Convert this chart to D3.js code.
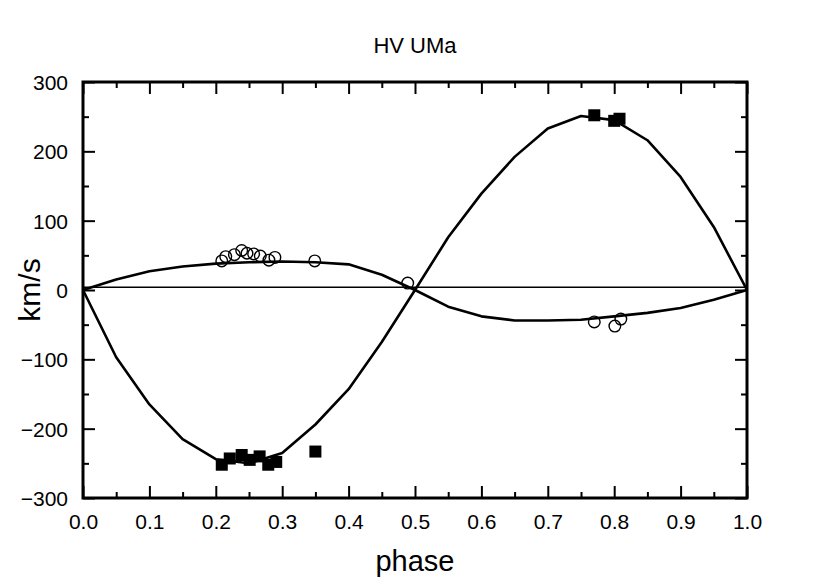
<!DOCTYPE html>
<html>
<head>
<meta charset="utf-8">
<script src="https://cdn.jsdelivr.net/npm/d3@7"></script>
<style>
  html, body { margin: 0; padding: 0; background: #fff; }
  svg { display: block; }
  text { font-family: "Liberation Sans", Arial, sans-serif; fill: #000; }
</style>
</head>
<body>
<svg id="chart" width="830" height="583"></svg>
<script>
// ---- data ----
const title = "HV UMa";
const xLabel = "phase";
const yLabel = "km/s";
const xTickValues = [0, 0.1, 0.2, 0.3, 0.4, 0.5, 0.6, 0.7, 0.8, 0.9, 1.0];
const yTickValues = [-300, -200, -100, 0, 100, 200, 300];
const fitPhase = [0, 0.05, 0.1, 0.15, 0.2, 0.25, 0.3, 0.35, 0.4, 0.45, 0.5,
                  0.55, 0.6, 0.65, 0.7, 0.75, 0.8, 0.85, 0.9, 0.95, 1.0];
const primaryFit = [0, -97, -165, -215, -244, -250, -235, -194, -143, -75, 0,
                    76, 139, 192, 233, 251, 245, 216, 163, 91, 0];
const secondaryFit = [0, 15, 27, 34, 38, 40, 41, 40, 37, 22, 0,
                      -24, -38, -44, -44, -43, -38, -33, -26, -14, 0];
const primaryPhase = [0.209, 0.221, 0.239, 0.251, 0.266, 0.279, 0.291, 0.350, 0.770, 0.800, 0.808];
const primaryRV = [-252, -243, -238, -245, -240, -252, -248, -233, 252, 244, 247];
const secondaryPhase = [0.209, 0.215, 0.228, 0.239, 0.247, 0.257, 0.267, 0.280, 0.289, 0.349, 0.489, 0.770, 0.801, 0.810];
const secondaryRV = [42, 48, 51, 57, 53, 52, 49, 43, 47, 42, 10, -46, -52, -42];
const gammaLine = 4;

// ---- layout ----
const svg = d3.select("#chart");
const L = 83, R = 747, T = 82, B = 498;
const x = d3.scaleLinear().domain([0, 1]).range([L, R]);
const y = d3.scaleLinear().domain([-300, 300]).range([B, T]);

const xMinor = d3.range(0, 1.0001, 0.05);
const yMinor = d3.range(-300, 300.01, 50);

function isMajorX(v) { return Math.abs(v * 10 - Math.round(v * 10)) < 1e-6; }
function isMajorY(v) { return v % 100 === 0; }

const gAxes = svg.append("g");
// bottom
gAxes.append("g").attr("transform", `translate(0,${B})`)
  .call(d3.axisTop(x).tickValues(xMinor).tickSize(0).tickFormat(""))
  .call(g => g.select(".domain").remove())
  .call(g => g.selectAll(".tick line").attr("y2", d => -(isMajorX(d) ? 12 : 6)).attr("stroke", "#000").attr("stroke-width", 2));
// top
gAxes.append("g").attr("transform", `translate(0,${T})`)
  .call(d3.axisBottom(x).tickValues(xMinor).tickSize(0).tickFormat(""))
  .call(g => g.select(".domain").remove())
  .call(g => g.selectAll(".tick line").attr("y2", d => (isMajorX(d) ? 12 : 6)).attr("stroke", "#000").attr("stroke-width", 2));
// left
gAxes.append("g").attr("transform", `translate(${L},0)`)
  .call(d3.axisRight(y).tickValues(yMinor).tickSize(0).tickFormat(""))
  .call(g => g.select(".domain").remove())
  .call(g => g.selectAll(".tick line").attr("x2", d => (isMajorY(d) ? 12 : 6)).attr("stroke", "#000").attr("stroke-width", 2));
// right
gAxes.append("g").attr("transform", `translate(${R},0)`)
  .call(d3.axisLeft(y).tickValues(yMinor).tickSize(0).tickFormat(""))
  .call(g => g.select(".domain").remove())
  .call(g => g.selectAll(".tick line").attr("x2", d => -(isMajorY(d) ? 12 : 6)).attr("stroke", "#000").attr("stroke-width", 2));

// tick labels
gAxes.append("g").attr("transform", `translate(0,${B})`)
  .call(d3.axisBottom(x).tickValues(xTickValues).tickSize(0).tickPadding(0).tickFormat(d3.format(".1f")))
  .call(g => g.select(".domain").remove())
  .call(g => g.selectAll(".tick text").attr("y", 31).attr("dy", 0)
      .style("font-size", "21px").style("font-family", "'Liberation Sans', Arial, sans-serif"));
gAxes.append("g").attr("transform", `translate(${L},0)`)
  .call(d3.axisLeft(y).tickValues(yTickValues).tickSize(0).tickPadding(0).tickFormat(d3.format("d")))
  .call(g => g.select(".domain").remove())
  .call(g => g.selectAll(".tick text").attr("x", -15).attr("dy", "0.35em")
      .style("font-size", "21px").style("font-family", "'Liberation Sans', Arial, sans-serif"));

// gamma line
svg.append("line")
  .attr("x1", x(0)).attr("x2", x(1))
  .attr("y1", y(gammaLine)).attr("y2", y(gammaLine))
  .attr("stroke", "#000").attr("stroke-width", 1.3);

// fit curves
const line = d3.line().x((d, i) => x(fitPhase[i])).y(d => y(d));
svg.append("path").datum(primaryFit).attr("d", line)
  .attr("fill", "none").attr("stroke", "#000").attr("stroke-width", 2.6).attr("stroke-linejoin", "round");
svg.append("path").datum(secondaryFit).attr("d", line)
  .attr("fill", "none").attr("stroke", "#000").attr("stroke-width", 2.6).attr("stroke-linejoin", "round");

// secondary points (open circles)
svg.append("g").selectAll("circle").data(secondaryPhase).join("circle")
  .attr("cx", d => x(d)).attr("cy", (d, i) => y(secondaryRV[i])).attr("r", 5.8)
  .attr("fill", "none").attr("stroke", "#000").attr("stroke-width", 1.4);

// primary points (filled squares)
const s = 12;
svg.append("g").selectAll("rect").data(primaryPhase).join("rect")
  .attr("x", d => x(d) - s / 2).attr("y", (d, i) => y(primaryRV[i]) - s / 2)
  .attr("width", s).attr("height", s).attr("fill", "#000");

// frame
svg.append("rect").attr("x", L).attr("y", T).attr("width", R - L).attr("height", B - T)
  .attr("fill", "none").attr("stroke", "#000").attr("stroke-width", 3);

// labels
svg.append("text").attr("x", (L + R) / 2).attr("y", 53).attr("text-anchor", "middle")
  .style("font-size", "22px").text(title);
svg.append("text").attr("x", (L + R) / 2).attr("y", 571).attr("text-anchor", "middle")
  .style("font-size", "29px").text(xLabel);
svg.append("text").attr("transform", `translate(40,${(T + B) / 2}) rotate(-90)`).attr("text-anchor", "middle")
  .style("font-size", "30px").text(yLabel);
</script>
</body>
</html>
